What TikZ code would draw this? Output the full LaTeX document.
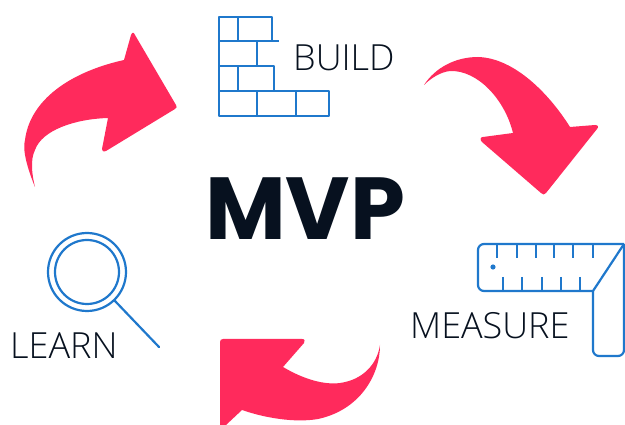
\documentclass[tikz,border=0pt]{standalone}
\usepackage{fontspec}
\setmainfont{Open Sans Light}
\newfontfamily\mvpfont{Poppins}
\definecolor{arrowred}{HTML}{FF2A5C}
\definecolor{iconblue}{HTML}{1F78CC}
\definecolor{inkdark}{HTML}{07111F}
\tikzset{
  icon/.style={draw=iconblue,line width=2.2pt,line join=round},
  word/.style={text=inkdark,inner sep=0pt,font=\fontsize{36}{36}\selectfont},
}
\begin{document}
\begin{tikzpicture}[x=1pt,y=-1pt]
\useasboundingbox[fill=white] (0,0) rectangle (625,425);
% arrows
\fill[arrowred] (35,187) .. controls (28,170) and (22,150) .. (25,140) .. controls (30,100) and (70,72) .. (124,60)
  -- (131,35) .. controls (132,32) and (134,32) .. (135,35) -- (176,105) .. controls (177,107) and (177,108) .. (175,109)
  -- (106,151) .. controls (103,152) and (102,151) .. (102,149) -- (108,118)
  .. controls (75,119) and (42,130) .. (35,150) .. controls (30,160) and (32,175) .. (35,187) -- cycle;
\fill[arrowred] (424,85) .. controls (435,68) and (455,57) .. (478,57) .. controls (515,58) and (550,95) .. (570,127)
  -- (595,125) .. controls (598,125) and (599,127) .. (597,129) -- (546,193) .. controls (544,195) and (543,195) .. (541,193)
  -- (482,142) .. controls (480,140) and (480,137) .. (483,137) -- (513,133)
  .. controls (505,100) and (478,70) .. (450,71) .. controls (440,72) and (430,79) .. (424,85) -- cycle;
\fill[arrowred] (380,345) .. controls (380,375) and (360,410) .. (318,419) .. controls (295,423) and (265,418) .. (242,410)
  -- (226,425) -- (220,425) -- (220,342) .. controls (220,340) and (221,339) .. (223,339) -- (302,339)
  .. controls (305,339) and (305,341) .. (304,343) -- (283,367)
  .. controls (305,380) and (325,385) .. (340,383) .. controls (362,380) and (377,365) .. (380,345) -- cycle;
% build
\draw[icon] (219,17) rectangle (272,41);
\draw[icon] (238,17) -- (238,41);
\draw[icon] (219,41) -- (279,41);
\draw[icon] (219,41) -- (219,116);
\draw[icon] (257,41) -- (257,66);
\draw[icon] (219,66) -- (274,66) -- (274,91);
\draw[icon] (238,66) -- (238,91);
\draw[icon] (219,91) rectangle (329,116);
\draw[icon] (257,91) -- (257,116);
\draw[icon] (296,91) -- (296,116);
% measure
\draw[icon,rounded corners=6pt] (624,244) -- (478,244) -- (478,291) -- (593,291);
\draw[icon] (624,244) -- (593,291);
\draw[icon,rounded corners=6pt] (593,291) -- (593,356) -- (624,356) -- (624,244);
\foreach \tx in {497,517,536,554,573,593} \draw[icon] (\tx,244) -- (\tx,258);
\foreach \bx in {503,522,542,561,580} \draw[icon] (\bx,277) -- (\bx,291);
\fill[iconblue] (493,267) circle (2.6);
% learn
\node[circle,icon,minimum size=78pt,inner sep=0pt] (lensouter) at (87,272) {};
\node[circle,icon,minimum size=64pt,inner sep=0pt] (lensinner) at (87,272) {};
\coordinate (handleend) at (159,347);
\draw[icon,line cap=round] (lensouter.-46) -- (handleend);
% text
\node[font=\mvpfont\bfseries\fontsize{88}{88}\selectfont,text=inkdark,inner sep=0pt,anchor=base] (mvp) at (305,240) {MVP};
\node[word,anchor=base west] (build) at (293,71) {BUILD};
\node[word,anchor=base west] (measure) at (410,338) {MEASURE};
\node[word,anchor=base west] (learn) at (10,359) {LEARN};
\end{tikzpicture}
\end{document}
